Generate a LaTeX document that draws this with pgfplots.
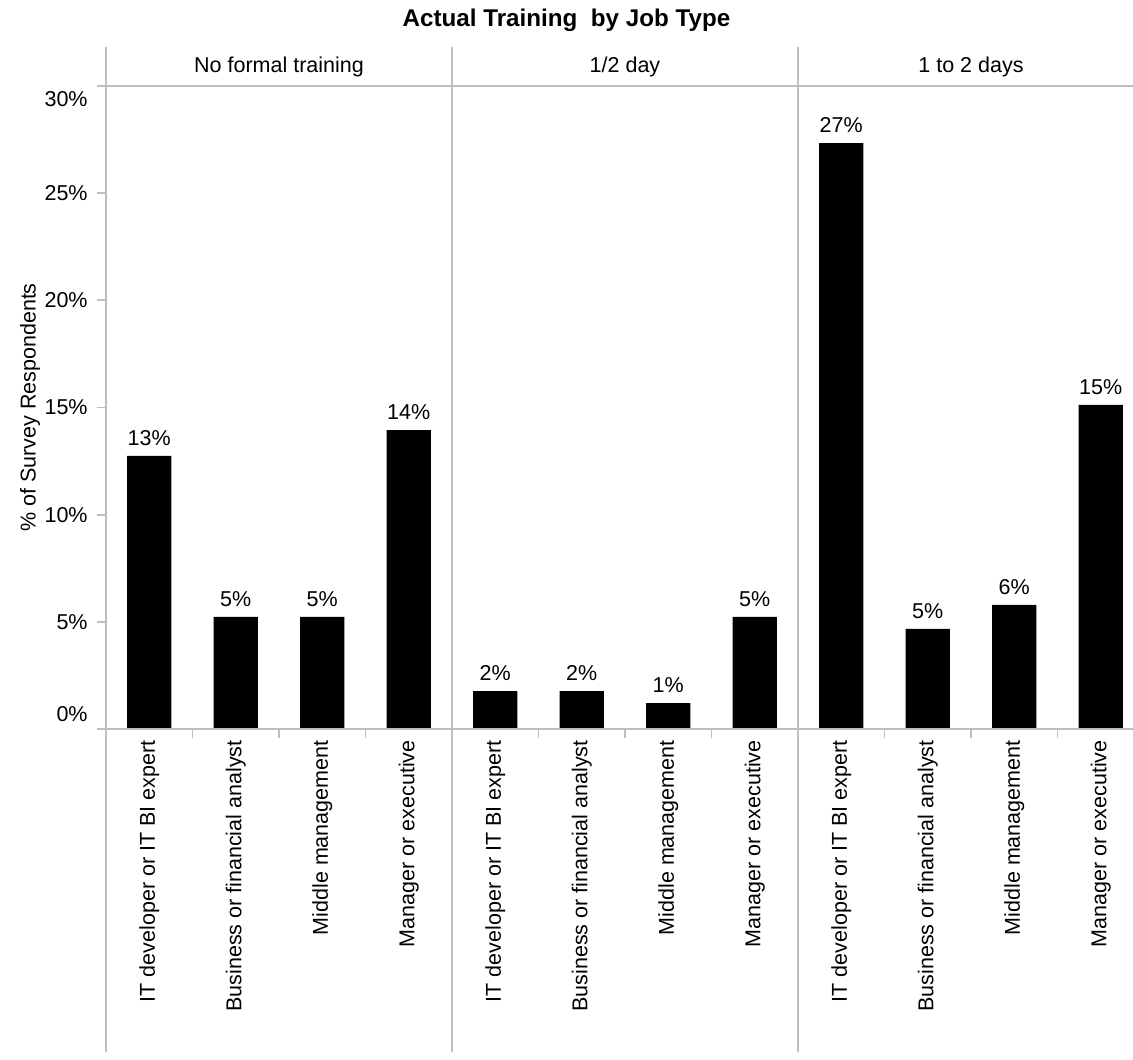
\documentclass[border=0pt]{standalone}
\usepackage{pgfplots}
\pgfplotsset{compat=1.18}
\usepackage{fontspec}
\setmainfont{Liberation Sans}
\definecolor{rule}{RGB}{190,190,190}
\definecolor{ink}{RGB}{0,0,0}
\newcommand{\lbl}{\fontsize{10.75}{12}\selectfont}

\begin{document}
\begin{tikzpicture}
\useasboundingbox (-53pt,-165pt) rectangle (513.5pt,364.5pt);
\begin{axis}[
  at={(0pt,0pt)}, anchor=south west,
  width=513.5pt, height=321.5pt, scale only axis,
  xmin=0, xmax=11.873, ymin=0, ymax=30,
  clip=false,
  axis line style={draw=none},
  /pgf/number format/assume math mode=true,
  tick align=outside,
  major tick length=4.5pt,
  minor tick length=4.5pt,
  tick style={draw=rule, line width=0.9pt},
  ytick={0,5,10,15,20,25,30},
  yticklabels={\raisebox{7.5pt}[\height][\depth]{0\%},5\%,10\%,15\%,20\%,25\%,\raisebox{-6.5pt}[\height][\depth]{30\%}},
  ytick pos=left,
  yticklabel style={font=\lbl, inner sep=1pt, xshift=-3.5pt},
  xtick={0.5,1.5,2.5,3.5,4.5,5.5,6.5,7.5,8.5,9.5,10.5,11.5},
  xticklabels={IT developer or IT BI expert, Business or financial analyst, Middle management, Manager or executive,
               IT developer or IT BI expert, Business or financial analyst, Middle management, Manager or executive,
               IT developer or IT BI expert, Business or financial analyst, Middle management, Manager or executive},
  xtick pos=bottom,
  major x tick style={draw=none},
  minor xtick={1,2,3,5,6,7,9,10,11},
  minor x tick style={draw=rule, line width=0.9pt},
  xticklabel style={font=\lbl, rotate=90, anchor=east, inner sep=1pt},
  ylabel={\% of Survey Respondents},
  ylabel style={font=\lbl, at={(axis description cs:-0.074,0.5)}, anchor=center},
  nodes near coords={\pgfmathprintnumber[fixed,precision=0]{\pgfplotspointmeta}\%},
  every node near coord/.append style={font=\lbl, anchor=south, inner sep=0pt, yshift=5pt},
]
% No formal training | 1/2 day | 1 to 2 days
\addplot[ybar, fill=ink, draw=none, bar width=0.51] coordinates {
  (0.5,12.74) (1.5,5.23) (2.5,5.23) (3.5,13.95)
  (4.5,1.77) (5.5,1.77) (6.5,1.21) (7.5,5.23)
  (8.5,27.34) (9.5,4.67) (10.5,5.79) (11.5,15.12)
};
\end{axis}
% panel frame
\draw[rule, line width=0.9pt] (-4.5pt,0) -- (513.5pt,0);
\draw[rule, line width=0.9pt] (-4.5pt,321.5pt) -- (513.5pt,321.5pt);
\foreach \xx in {0pt,173pt,346pt}
  \draw[rule, line width=0.9pt] (\xx,-161.5pt) -- (\xx,341pt);
% panel headers
\node[font=\lbl, anchor=base] at (86.5pt,328pt) {No formal training};
\node[font=\lbl, anchor=base] at (259.5pt,328pt) {1/2 day};
\node[font=\lbl, anchor=base] at (432.5pt,328pt) {1 to 2 days};
% title
\node[font=\fontsize{12.1}{14}\selectfont\bfseries, anchor=base] at (230.25pt,351.2pt) {Actual Training\ \ by Job Type};
\end{tikzpicture}
\end{document}
